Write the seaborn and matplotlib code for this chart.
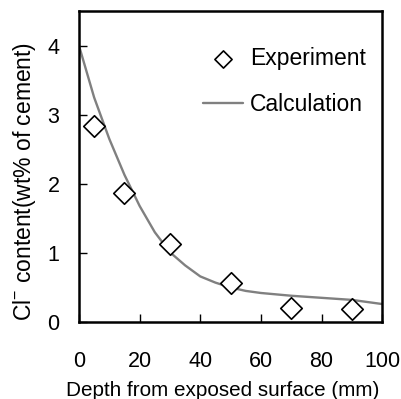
import matplotlib
matplotlib.use("Agg")
import matplotlib.pyplot as plt
import seaborn as sns
import pandas as pd

exp_depth = [5, 15, 30, 50, 70, 90]
exp_cl = [2.84, 1.87, 1.13, 0.56, 0.20, 0.19]

calc_depth = [0, 5, 10, 15, 20, 25, 30, 35, 40, 45, 50, 55, 60, 70, 80, 90, 100]
calc_cl = [4.0, 3.25, 2.65, 2.13, 1.68, 1.30, 1.01, 0.82, 0.66, 0.57, 0.50, 0.45, 0.42, 0.38, 0.35, 0.32, 0.26]

x_ticks = [0, 20, 40, 60, 80, 100]
y_ticks = [0, 1, 2, 3, 4]

sns.set_style("ticks")
plt.rcParams['font.family'] = ['Liberation Sans', 'DejaVu Sans']
plt.rcParams['mathtext.fontset'] = 'custom'
plt.rcParams['mathtext.rm'] = 'Liberation Sans'
plt.rcParams['mathtext.it'] = 'Liberation Sans'
plt.rcParams['mathtext.default'] = 'regular'
plt.rcParams['text.color'] = 'black'
plt.rcParams['axes.labelcolor'] = 'black'
plt.rcParams['xtick.color'] = 'black'
plt.rcParams['ytick.color'] = 'black'

fig = plt.figure(figsize=(4.01, 3.99), dpi=100)
ax = fig.add_axes([0.197, 0.193, 0.756, 0.779])

df_exp = pd.DataFrame({"depth": exp_depth, "cl": exp_cl})
df_calc = pd.DataFrame({"depth": calc_depth, "cl": calc_cl})

sns.lineplot(data=df_calc, x="depth", y="cl", ax=ax, color="#808080", linewidth=1.7,
             label="Calculation", zorder=2)
sns.scatterplot(data=df_exp, x="depth", y="cl", ax=ax, marker="D", s=120,
                facecolor="white", edgecolor="black", linewidth=1.2,
                label="Experiment", zorder=3)

ax.set_xlim(0, 100)
ax.set_ylim(0, 4.5)
ax.set_xticks(x_ticks)
ax.set_yticks(y_ticks)
ax.tick_params(direction="in", length=6, width=1, labelsize=15.5, colors="black")
ax.tick_params(axis="x", pad=21)
ax.tick_params(axis="y", pad=14)
for side in ["left", "bottom", "right", "top"]:
    ax.spines[side].set_visible(True)
    ax.spines[side].set_color("black")
    ax.spines[side].set_linewidth(1.8)

ax.set_xlabel("Depth from exposed surface (mm)", fontsize=14.9)
ax.xaxis.set_label_coords(0.475, -0.19)
ax.set_ylabel("Cl$^{-}$ content(wt% of cement)", fontsize=16.5)
ax.yaxis.set_label_coords(-0.135, 0.452)

h, l = ax.get_legend_handles_labels()
order = [l.index("Experiment"), l.index("Calculation")]
ax.legend([h[i] for i in order], [l[i] for i in order], loc="upper right",
          bbox_to_anchor=(1.0, 0.935),
          frameon=False, fontsize=16.5, handlelength=1.75, handletextpad=0.3,
          labelspacing=1.0, markerscale=0.8, borderaxespad=0.3)

fig.savefig("out.png", dpi=100)
